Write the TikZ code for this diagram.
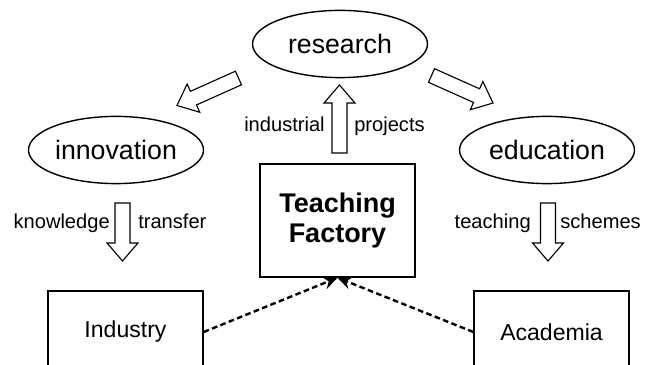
\documentclass[tikz,border=0pt]{standalone}
\usepackage{fontspec}
\setmainfont{Liberation Sans}
\usetikzlibrary{shapes.geometric,arrows.meta,calc}

\tikzset{
  topic/.style={ellipse, draw, line width=1pt, inner sep=0pt,
    minimum width=4.375cm, minimum height=1.68cm,
    font=\fontsize{19}{22}\selectfont},
  party/.style={rectangle, draw, line width=1pt,
    minimum width=3.875cm, minimum height=2.05cm,
    font=\fontsize{16.4}{19}\selectfont},
  tag/.style={inner sep=0pt, font=\fontsize{14.3}{17}\selectfont},
  % hollow block arrow from start to target
  fat/.style={line width=0.8pt, to path={
    let \p1=(\tikztostart), \p2=(\tikztotarget),
        \n1={atan2(\y2-\y1,\x2-\x1)}, \n2={veclen(\x2-\x1,\y2-\y1)} in
    ($(\p1)+(\n1+90:5.3pt)$) -- ++(\n1:\n2-12.8pt) -- ++(\n1+90:5.7pt)
    -- (\p2) -- ($(\p2)+(\n1+180:12.8pt)+(\n1-90:11pt)$)
    -- ++(\n1+90:5.7pt) -- ++(\n1+180:\n2-12.8pt) -- cycle}},
  link/.style={line width=1.7pt, dash pattern=on 4pt off 2.4pt,
    -{Stealth[length=10pt,width=9pt]}}
}

\begin{document}
\begin{tikzpicture}
\useasboundingbox (0,0) rectangle (16.15,9.1);
\clip (0,0) rectangle (16.15,9.1);

\node[topic] (research) at (8.5,8.0) {research};
\node[topic] (innovation) at (2.9,5.35) {innovation};
\node[topic] (education) at (13.675,5.35) {education};

\node[rectangle, draw, line width=1pt, minimum width=3.875cm, minimum height=2.825cm,
  align=center, font=\bfseries\fontsize{19.2}{22}\selectfont]
  (factory) at (8.4375,3.5875) {Teaching\\Factory};
\node[party] (industry) at (3.1375,0.8) {Industry};
\node[party] (academia) at (13.7875,0.8) {Academia};

% block arrows
\coordinate (r1) at (5.9625,7.15);
\coordinate (i1) at (4.425,6.4625);
\coordinate (r2) at (10.7875,7.2125);
\coordinate (e1) at (12.325,6.525);
\coordinate (f1) at (8.4875,5.275);
\coordinate (r3) at (8.4875,6.975);
\coordinate (i2) at (3.0625,4.025);
\coordinate (i3) at (3.0625,2.575);
\coordinate (e2) at (13.7,4.025);
\coordinate (e3) at (13.7,2.575);

\draw[fat] (r1) to (i1);
\draw[fat] (r2) to (e1);
\draw[fat] (f1) to (r3);
\draw[fat] (i2) to (i3);
\draw[fat] (e2) to (e3);

\node[tag, anchor=base east] (indus) at (8.125,5.8) {industrial};
\node[tag, anchor=base west] (proj) at (8.85,5.8) {projects};
\node[tag, anchor=base east] (know) at (2.75,3.375) {knowledge};
\node[tag, anchor=base west] (trans) at (3.45,3.375) {transfer};
\node[tag, anchor=base east] (teach) at (13.275,3.375) {teaching};
\node[tag, anchor=base west] (schem) at (14.0,3.375) {schemes};

% dashed links into the factory
\draw[link] (industry.east) -- (factory.south);
\draw[link] (academia.west) -- (factory.south);

\end{tikzpicture}
\end{document}
